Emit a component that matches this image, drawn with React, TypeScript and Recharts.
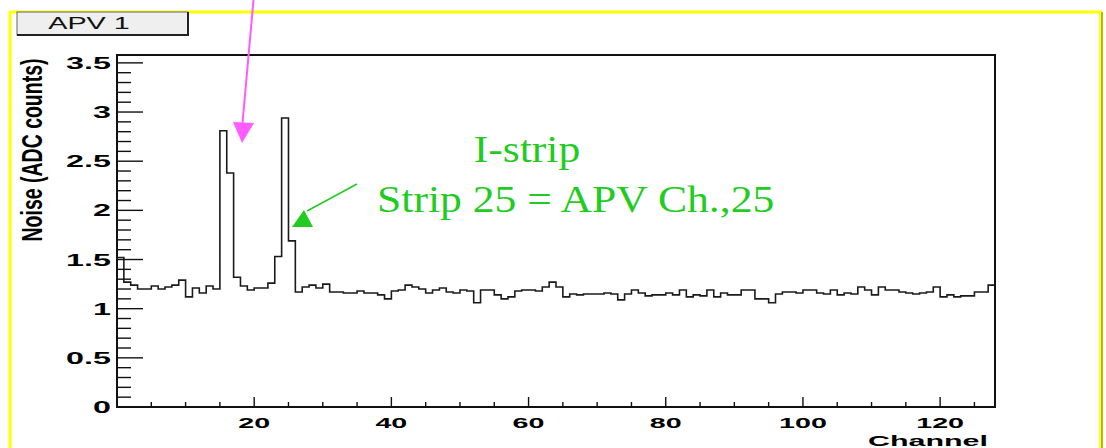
import React from "react";
import {
  ComposedChart,
  Line,
  XAxis,
  YAxis,
  ReferenceArea,
} from "recharts";

// noise per APV channel (ADC counts), channels 0..127
const noise = [
  1.52, 1.27, 1.24, 1.2, 1.2, 1.23, 1.2, 1.22, 1.24, 1.29,
  1.12, 1.21, 1.16, 1.23, 1.2, 2.81, 2.38, 1.32, 1.23, 1.19,
  1.21, 1.21, 1.26, 1.53, 2.94, 1.69, 1.17, 1.22, 1.24, 1.21,
  1.25, 1.17, 1.17, 1.16, 1.16, 1.18, 1.16, 1.16, 1.14, 1.1,
  1.18, 1.19, 1.24, 1.22, 1.2, 1.16, 1.19, 1.21, 1.17, 1.16,
  1.19, 1.18, 1.06, 1.19, 1.19, 1.14, 1.1, 1.12, 1.18, 1.19,
  1.19, 1.18, 1.22, 1.27, 1.22, 1.12, 1.15, 1.14, 1.15, 1.15,
  1.15, 1.16, 1.15, 1.09, 1.15, 1.19, 1.16, 1.13, 1.14, 1.14,
  1.16, 1.14, 1.19, 1.12, 1.14, 1.13, 1.19, 1.12, 1.16, 1.14,
  1.14, 1.19, 1.19, 1.1, 1.1, 1.06, 1.15, 1.17, 1.17, 1.16,
  1.19, 1.19, 1.16, 1.15, 1.19, 1.14, 1.16, 1.15, 1.22, 1.19,
  1.14, 1.22, 1.19, 1.19, 1.17, 1.16, 1.15, 1.16, 1.17, 1.22,
  1.12, 1.14, 1.12, 1.13, 1.13, 1.17, 1.17, 1.24,
];

const xTicks = [
  5, 10, 15, 20, 25, 30, 35, 40, 45, 50, 55, 60, 65, 70, 75, 80, 85, 90,
  95, 100, 105, 110, 115, 120, 125,
];
const xLabels = [20, 40, 60, 80, 100, 120];

const yTicks = [
  0, 0.1, 0.2, 0.3, 0.4, 0.5, 0.6, 0.7, 0.8, 0.9, 1, 1.1, 1.2, 1.3, 1.4,
  1.5, 1.6, 1.7, 1.8, 1.9, 2, 2.1, 2.2, 2.3, 2.4, 2.5, 2.6, 2.7, 2.8, 2.9,
  3, 3.1, 3.2, 3.3, 3.4, 3.5,
];
const yLabels = [0, 0.5, 1, 1.5, 2, 2.5, 3, 3.5];

const data = noise
  .map((v, i) => ({ ch: i, noise: v }))
  .concat([{ ch: noise.length, noise: noise[noise.length - 1] }]);

const axisFont = "'Liberation Sans', Arial, sans-serif";

const XTick = (props: any) => {
  const { x, y, payload } = props;
  const major = xLabels.includes(payload.value);
  return (
    <g>
      <line x1={x} x2={x} y1={y} y2={y - (major ? 10 : 5)} stroke="#111" strokeWidth={1.4} />
      {major && (
        <text
          transform={`translate(${x},${y + 21}) scale(1.85,1)`}
          textAnchor="middle"
          fontFamily={axisFont}
          fontWeight="bold"
          fontSize={15.5}
          fill="#000"
        >
          {payload.value}
        </text>
      )}
    </g>
  );
};

const YTick = (props: any) => {
  const { x, y, payload } = props;
  const major = yLabels.some((l) => Math.abs(l - payload.value) < 1e-6);
  return (
    <g>
      <line x1={x} x2={x + (major ? 26 : 14)} y1={y} y2={y} stroke="#111" strokeWidth={1.4} />
      {major && (
        <text
          transform={`translate(${x - 6},${y + 6}) scale(1.9,1)`}
          textAnchor="end"
          fontFamily={axisFont}
          fontWeight="bold"
          fontSize={17}
          fill="#000"
        >
          {String(payload.value)}
        </text>
      )}
    </g>
  );
};

export default function App() {
  return (
    <div style={{ position: "absolute", left: 0, top: 0, width: 1106, height: 448, background: "#fff" }}>
      <ComposedChart
        width={1106}
        height={448}
        data={data}
        margin={{ top: 55, right: 111, bottom: 11, left: 57 }}
      >
        <XAxis
          dataKey="ch"
          type="number"
          domain={[0, 128]}
          ticks={xTicks}
          interval={0}
          height={30}
          tickSize={0}
          tickMargin={0}
          axisLine={false}
          tickLine={false}
          tick={<XTick />}
          allowDataOverflow
        />
        <YAxis
          type="number"
          domain={[0, 3.58]}
          ticks={yTicks}
          interval={0}
          width={60}
          tickSize={0}
          tickMargin={0}
          axisLine={false}
          tickLine={false}
          tick={<YTick />}
          allowDataOverflow
        />
        <Line
          type="stepAfter"
          dataKey="noise"
          stroke="#1a1a1a"
          strokeWidth={1.6}
          dot={false}
          isAnimationActive={false}
        />
        <ReferenceArea
          x1={0}
          x2={128}
          y1={0}
          y2={3.58}
          fill="none"
          stroke="#111"
          strokeWidth={2}
          ifOverflow="visible"
        />
      </ComposedChart>

      <svg
        width={1106}
        height={448}
        style={{ position: "absolute", left: 0, top: 0, pointerEvents: "none" }}
      >
        {/* pad border */}
        <line x1={10} y1={12} x2={1102} y2={12} stroke="#ffff00" strokeWidth={3} />
        <line x1={10} y1={11} x2={10} y2={448} stroke="#ffff00" strokeWidth={3} />
        <line x1={1100} y1={12} x2={1100} y2={448} stroke="#ffff22" strokeWidth={2} />
        <line x1={1102} y1={12} x2={1102} y2={448} stroke="#b8b800" strokeWidth={2} />

        {/* title box */}
        <rect x={17} y={12} width={171} height={23} fill="#efefef" stroke="#666" strokeWidth={1} />
        <line x1={188} y1={12} x2={188} y2={36} stroke="#222" strokeWidth={2} />
        <line x1={17} y1={35} x2={189} y2={35} stroke="#222" strokeWidth={2} />
        <text
          transform="translate(89,29) scale(1.8,1)"
          textAnchor="middle"
          fontFamily={axisFont}
          fontSize={16}
          fill="#111"
        >
          APV 1
        </text>

        {/* axis titles */}
        <text
          transform="translate(42,150) rotate(-90) scale(1,1.5)"
          textAnchor="middle"
          fontFamily={axisFont}
          fontWeight="bold"
          fontSize={19.5}
          fill="#000"
        >
          Noise (ADC counts)
        </text>
        <text
          transform="translate(988,446) scale(2.1,1)"
          textAnchor="end"
          fontFamily={axisFont}
          fontWeight="bold"
          fontSize={14.5}
          fill="#000"
        >
          Channel
        </text>

        {/* magenta arrow */}
        <line x1={253.5} y1={0} x2={242.5} y2={123} stroke="#ff5cff" strokeWidth={2} />
        <polygon points="233,122 254,123 242,143" fill="#ff5cff" />

        {/* green annotation */}
        <line x1={357} y1={184} x2={307} y2={211} stroke="#1fcc1f" strokeWidth={1.5} />
        <polygon points="292,227 313,227 304,210" fill="#1fcc1f" />
        <text
          transform="translate(527,162) scale(1.18,1)"
          textAnchor="middle"
          fontFamily="'Liberation Serif', 'Times New Roman', serif"
          fontSize={37}
          fill="#1fcc1f"
        >
          I-strip
        </text>
        <text
          transform="translate(377,212) scale(1.18,1)"
          textAnchor="start"
          fontFamily="'Liberation Serif', 'Times New Roman', serif"
          fontSize={37}
          fill="#1fcc1f"
        >
          Strip 25 = APV Ch.,25
        </text>
      </svg>
    </div>
  );
}
